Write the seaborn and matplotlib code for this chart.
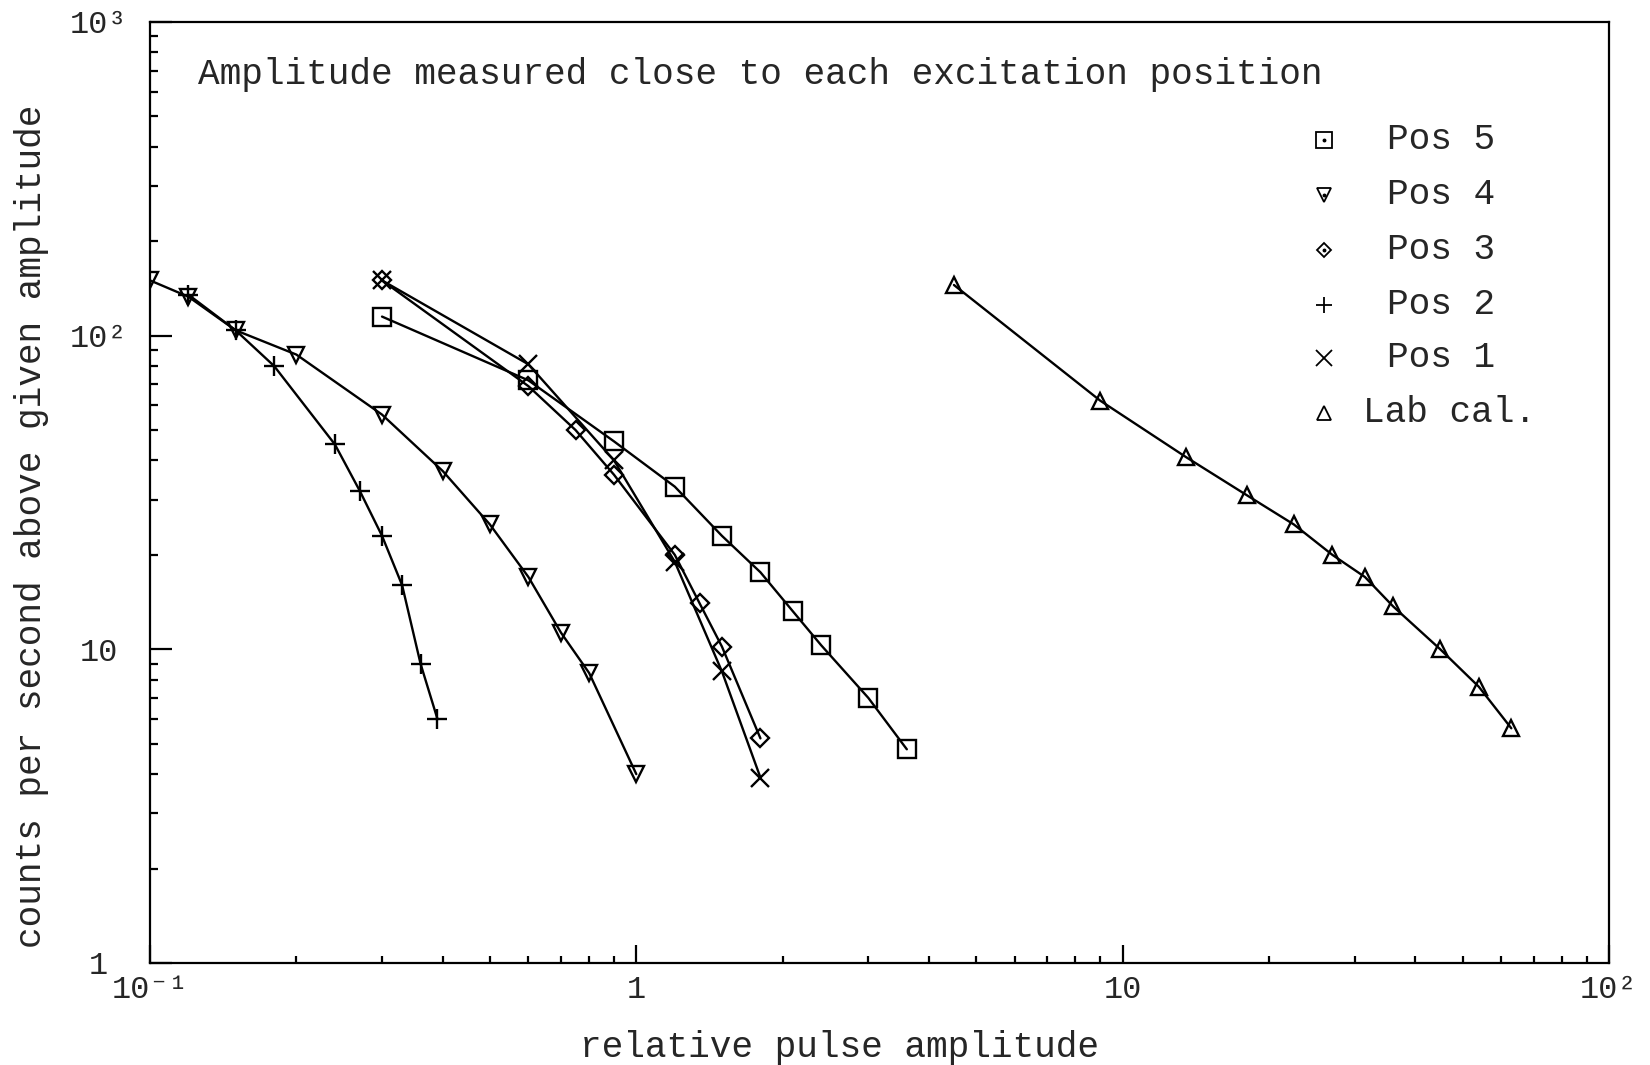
import matplotlib
matplotlib.use("Agg")
import matplotlib.pyplot as plt
import seaborn as sns
from matplotlib.ticker import FixedLocator, FixedFormatter, LogLocator, NullFormatter

# Relative pulse amplitude (x) and counts per second above that amplitude (y)
pos5_x = [0.3, 0.6, 0.9, 1.2, 1.5, 1.8, 2.1, 2.4, 3.0, 3.6]
pos5_y = [115, 72, 46, 33, 23, 17.6, 13.2, 10.3, 7.0, 4.8]

pos4_x = [0.1, 0.12, 0.15, 0.2, 0.3, 0.4, 0.5, 0.6, 0.7, 0.8, 1.0]
pos4_y = [150, 133, 104, 87, 56, 37, 25, 17, 11.3, 8.4, 4.0]

pos3_x = [0.3, 0.6, 0.75, 0.9, 1.2, 1.35, 1.5, 1.8]
pos3_y = [150, 69, 50, 36, 20, 14, 10.2, 5.2]

pos2_x = [0.12, 0.15, 0.18, 0.24, 0.27, 0.30, 0.33, 0.36, 0.39]
pos2_y = [135, 104, 80, 45, 32, 23, 16, 9, 6]

pos1_x = [0.3, 0.6, 0.9, 1.2, 1.5, 1.8]
pos1_y = [150, 81, 40, 19, 8.5, 3.9]

lab_x = [4.5, 9, 13.5, 18, 22.5, 27, 31.5, 36, 45, 54, 63]
lab_y = [145, 62, 41, 31, 25, 20, 17, 13.7, 10, 7.6, 5.6]

legend_labels = ["Pos 5", "Pos 4", "Pos 3", "Pos 2", "Pos 1", "Lab cal."]

x_ticks = [0.1, 1, 10, 100]
x_ticklabels = ["10\u207b\u00b9", "1", "10", "10\u00b2"]
y_ticks = [1, 10, 100, 1000]
y_ticklabels = ["1", "10", "10\u00b2", "10\u00b3"]

title_text = "Amplitude measured close to each excitation position"
x_title = "relative pulse amplitude"
y_title = "counts per second above given amplitude"

sns.set_style("white")
plt.rcParams["font.family"] = ["Liberation Mono", "DejaVu Sans Mono"]
plt.rcParams["axes.unicode_minus"] = False

fig = plt.figure(figsize=(16.5, 10.65), dpi=100)
ax = fig.add_axes([0.0909, 0.0958, 0.8842, 0.8836])

series = [
    (pos5_x, pos5_y, "s", 13),
    (pos4_x, pos4_y, "v", 12),
    (pos3_x, pos3_y, "D", 9),
    (pos2_x, pos2_y, "+", 15),
    (pos1_x, pos1_y, "x", 13),
    (lab_x, lab_y, "^", 12),
]

for xs, ys, mk, ms in series:
    sns.lineplot(x=xs, y=ys, ax=ax, sort=False, estimator=None,
                 color="black", lw=1.7, marker=mk, markersize=ms,
                 mfc="none", mec="black", mew=1.7)

ax.set_xscale("log")
ax.set_yscale("log")
ax.set_xlim(0.1, 100)
ax.set_ylim(1, 1000)

ax.xaxis.set_major_locator(FixedLocator(x_ticks))
ax.xaxis.set_major_formatter(FixedFormatter(x_ticklabels))
ax.yaxis.set_major_locator(FixedLocator(y_ticks))
ax.yaxis.set_major_formatter(FixedFormatter(y_ticklabels))
ax.xaxis.set_minor_locator(LogLocator(base=10, subs=range(2, 10)))
ax.yaxis.set_minor_locator(LogLocator(base=10, subs=range(2, 10)))
ax.xaxis.set_minor_formatter(NullFormatter())
ax.yaxis.set_minor_formatter(NullFormatter())

ax.tick_params(axis="x", which="major", direction="in", length=13, width=1.6,
               pad=9, labelsize=23, bottom=True, top=False, color="black")
ax.tick_params(axis="x", which="minor", direction="in", length=5, width=1.6,
               bottom=True, top=False, color="black")
ax.tick_params(axis="y", which="major", direction="in", length=16, width=1.6,
               pad=37, labelsize=23, left=True, right=False, color="black")
ax.tick_params(axis="y", which="minor", direction="in", length=6, width=1.6,
               left=True, right=False, color="black")
for lbl in ax.get_yticklabels():
    lbl.set_horizontalalignment("center")

for sp in ax.spines.values():
    sp.set_visible(True)
    sp.set_linewidth(1.6)
    sp.set_color("black")

ax.set_xlabel(x_title, fontsize=26, va="center")
ax.xaxis.set_label_coords(0.4729, -0.0893)
ax.set_ylabel(y_title, fontsize=26, va="center")
ax.yaxis.set_label_coords(-0.081, 0.4644)

ax.text(0.0329, 0.9437, title_text, transform=ax.transAxes, fontsize=26,
        ha="left", va="center")

# Key in the upper right
key_rows = [0.8746, 0.8162, 0.7577, 0.6993, 0.6429, 0.5845]
key_marks = [("s", 11, True), ("v", 10, True), ("D", 7, True),
             ("+", 12, False), ("x", 11, False), ("^", 10, False)]
for yk, (mk, ms, dot), lab in zip(key_rows, key_marks, legend_labels):
    ax.plot([0.8047], [yk], transform=ax.transAxes, linestyle="none",
            marker=mk, markersize=ms, mfc="none", mec="black", mew=1.3,
            clip_on=False)
    if dot:
        ax.plot([0.8047], [yk], transform=ax.transAxes, linestyle="none",
                marker="o", markersize=1.8, color="black", clip_on=False)
    tx = 0.8314 if lab.startswith("Lab") else 0.8478
    ax.text(tx, yk, lab, transform=ax.transAxes, fontsize=26,
            ha="left", va="center")

fig.savefig("out.png", dpi=100, facecolor="white")
